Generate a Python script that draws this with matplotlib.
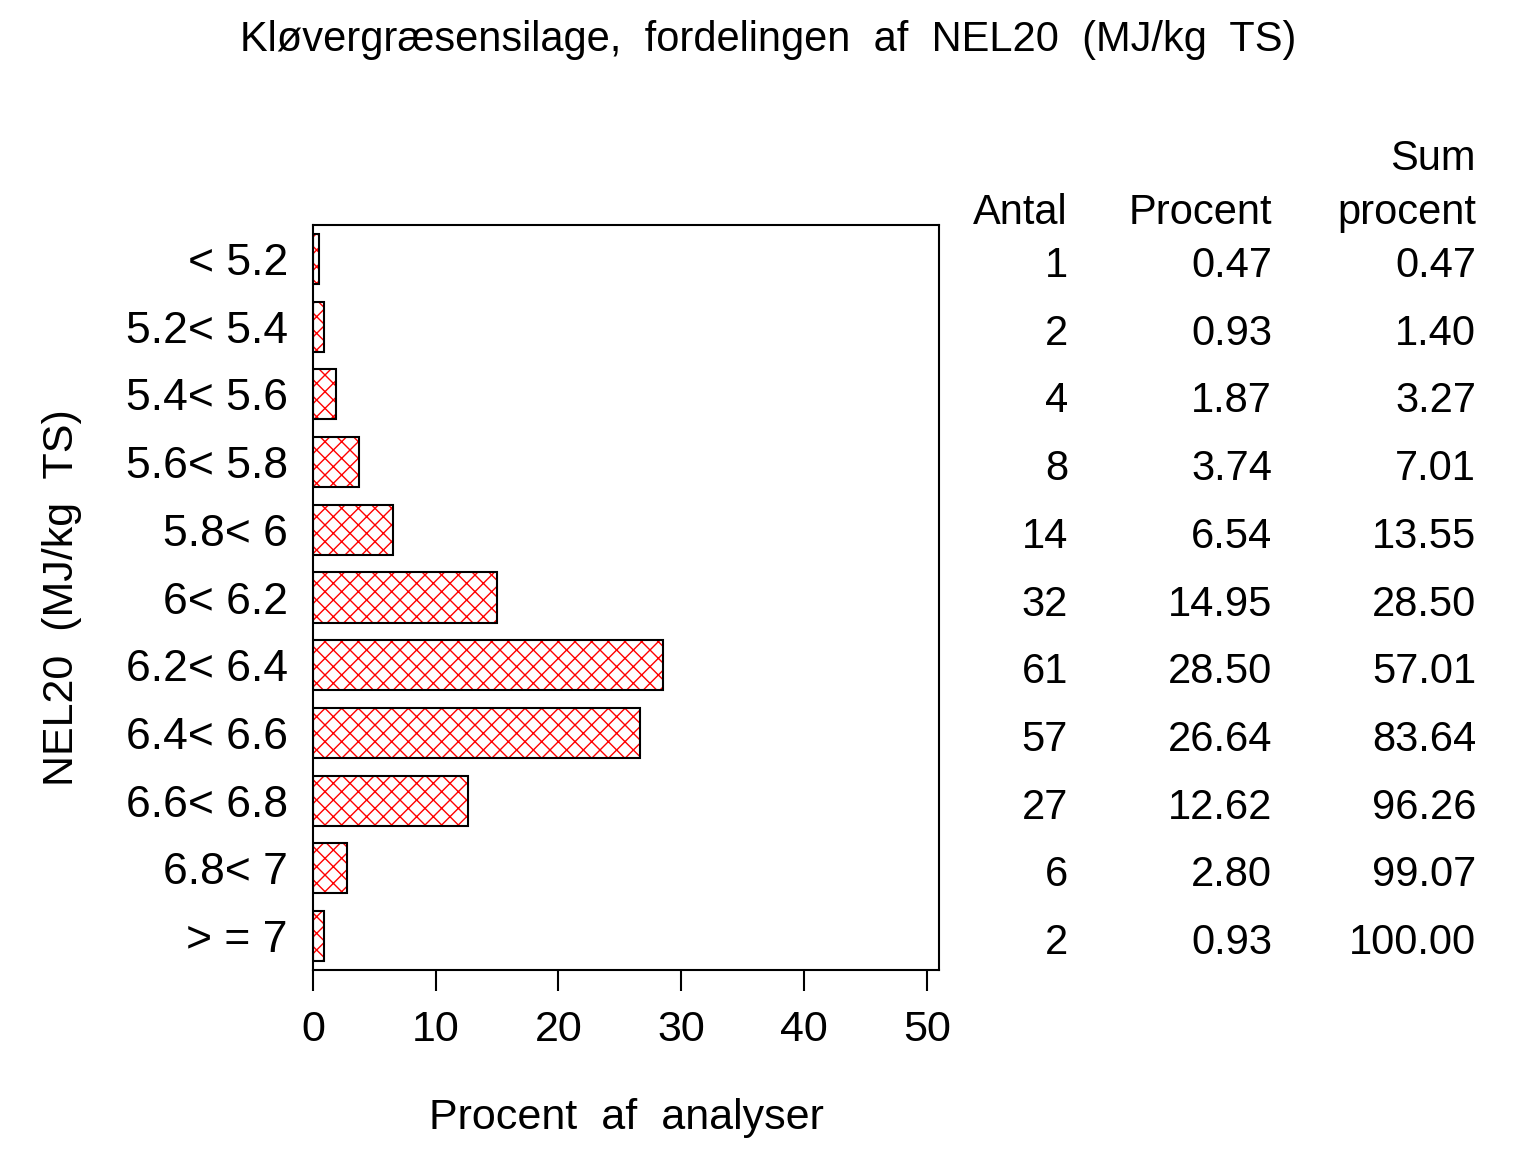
import matplotlib
matplotlib.use("Agg")
import matplotlib.pyplot as plt
import matplotlib.transforms as mtransforms

plt.rcParams['font.family'] = ['Liberation Sans', 'DejaVu Sans']

categories = ["< 5.2", "5.2< 5.4", "5.4< 5.6", "5.6< 5.8", "5.8< 6", "6< 6.2",
              "6.2< 6.4", "6.4< 6.6", "6.6< 6.8", "6.8< 7", "> = 7"]
antal = [1, 2, 4, 8, 14, 32, 61, 57, 27, 6, 2]
procent = [0.47, 0.93, 1.87, 3.74, 6.54, 14.95, 28.50, 26.64, 12.62, 2.80, 0.93]
sum_procent = [0.47, 1.40, 3.27, 7.01, 13.55, 28.50, 57.01, 83.64, 96.26, 99.07, 100.00]
xticks = [0, 10, 20, 30, 40, 50]

fig = plt.figure(figsize=(15.36, 11.52), dpi=100)
ax = fig.add_axes([313/1536, 1-970/1152, (939-313)/1536, (970-225)/1152])

pos = list(range(len(categories)))
plt.rcParams['hatch.linewidth'] = 1.0
ax.barh(pos, procent, height=0.74, color='white', edgecolor='red', hatch='xx', linewidth=0)
ax.barh(pos, procent, height=0.74, fill=False, edgecolor='black', linewidth=1.5)

ax.set_xlim(0, 51)
ax.set_ylim(10.5, -0.5)
ax.set_yticks(pos)
ax.set_yticklabels(categories, fontsize=32)
ax.set_xticks(xticks)
ax.set_xticklabels([str(t) for t in xticks], fontsize=31)
ax.tick_params(axis='y', length=0, pad=18)
ax.tick_params(axis='x', length=15, width=1.5, pad=14)
for s in ax.spines.values():
    s.set_linewidth(1.5)

ax.set_xlabel("Procent  af  analyser", fontsize=31, labelpad=34)
ax.set_ylabel("NEL20  (MJ/kg  TS)", fontsize=31, labelpad=32)

fig.text(0.5, 1-40/1152, "Kløvergræsensilage,  fordelingen  af  NEL20  (MJ/kg  TS)",
         ha='center', va='center', fontsize=30)

trans = mtransforms.blended_transform_factory(fig.transFigure, ax.transData)
trans = trans + mtransforms.ScaledTranslation(0, -7/100, fig.dpi_scale_trans)
cols_x = [1068/1536, 1272/1536, 1476/1536]
for i in pos:
    fig.text(cols_x[0], i, f"{antal[i]}", transform=trans, ha='right', va='center', fontsize=30)
    fig.text(cols_x[1], i, f"{procent[i]:.2f}", transform=trans, ha='right', va='center', fontsize=30)
    fig.text(cols_x[2], i, f"{sum_procent[i]:.2f}", transform=trans, ha='right', va='center', fontsize=30)

hy1 = 1-213/1152
hy0 = 1-159/1152
fig.text(cols_x[0], hy1, "Antal", ha='right', va='center', fontsize=30)
fig.text(cols_x[1], hy1, "Procent", ha='right', va='center', fontsize=30)
fig.text(cols_x[2], hy1, "procent", ha='right', va='center', fontsize=30)
fig.text(cols_x[2], hy0, "Sum", ha='right', va='center', fontsize=30)

fig.savefig("out.png", dpi=100, facecolor='white')
